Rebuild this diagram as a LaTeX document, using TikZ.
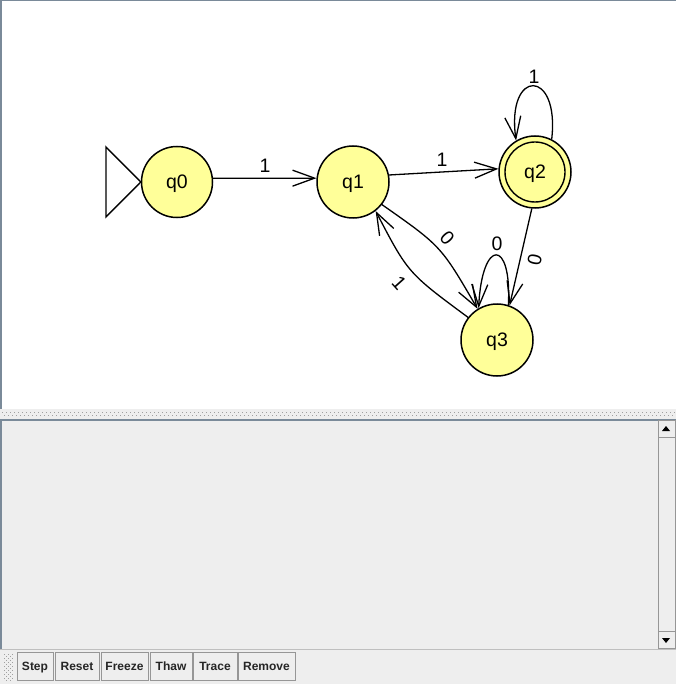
\documentclass[tikz,border=0pt]{standalone}
\usepackage{fontspec}
\setmainfont{Liberation Sans}
\usetikzlibrary{arrows.meta}
\definecolor{stfill}{RGB}{255,255,153}
\definecolor{panelgray}{RGB}{238,238,238}
\definecolor{bordergray}{RGB}{122,138,153}
\definecolor{btnborder}{RGB}{150,150,150}
\definecolor{dotgray}{RGB}{160,160,160}
\begin{document}
\begin{tikzpicture}[x=1pt,y=-1pt,
  state/.style={circle,draw=black,fill=stfill,line width=1.5pt,minimum size=72pt,inner sep=0pt,text height=13pt,text depth=0pt,font=\fontsize{19.5}{19.5}\selectfont},
  trans/.style={draw=black,line width=1.3pt,-{Straight Barb[length=22pt,width=16pt,line width=1.3pt]}},
  lbl/.style={font=\fontsize{19.5}{19.5}\selectfont,inner sep=0pt,text height=13pt,text depth=0pt},
  btn/.style={draw=btnborder,fill=panelgray,line width=0.8pt,minimum height=28pt,inner sep=0pt,text height=9pt,text depth=0pt,font=\fontsize{12}{12}\selectfont\bfseries,text=black!85}
]
\useasboundingbox (0,0) rectangle (676,684);
% top canvas
\fill[white] (0,0) rectangle (676,410);
\draw[bordergray,line width=1pt] (0,0.5) -- (676,0.5);
\draw[bordergray,line width=1.5pt] (0.75,0) -- (0.75,409);
% divider
\fill[panelgray] (0,409) rectangle (676,419);
\foreach \x in {2,6,...,674} {\fill[dotgray] (\x,412) rectangle ++(1,1);}
\foreach \x in {4,8,...,674} {\fill[dotgray] (\x,415) rectangle ++(1,1);}
% lower panel
\fill[panelgray] (0,419) rectangle (676,649);
\draw[bordergray,line width=1.5pt] (0,419.75) -- (676,419.75);
\draw[bordergray,line width=1.5pt] (0.75,419) -- (0.75,649);
% scrollbar
\draw[btnborder,fill=panelgray,line width=0.8pt] (658.5,420.5) rectangle (675.5,648);
\draw[btnborder,line width=0.8pt] (658.5,437) -- (675.5,437);
\draw[btnborder,line width=0.8pt] (658.5,631) -- (675.5,631);
\fill[black] (662,431) -- (670,431) -- (666,426) -- cycle;
\fill[black] (662,638) -- (670,638) -- (666,643) -- cycle;
% toolbar
\fill[panelgray] (0,649) rectangle (676,684);
\draw[black!25,line width=0.8pt] (0,649.5) -- (676,649.5);
\foreach \x in {4,8,12} {\foreach \y in {654,658,...,680} {\fill[dotgray] (\x,\y) rectangle ++(1,1);}}
\foreach \x in {6,10} {\foreach \y in {656,660,...,680} {\fill[dotgray] (\x,\y) rectangle ++(1,1);}}
\node[btn,minimum width=36pt] (bstep) at (35,666) {Step};
\node[btn,minimum width=44pt] (breset) at (77,666) {Reset};
\node[btn,minimum width=47pt] (bfreeze) at (124.5,666) {Freeze};
\node[btn,minimum width=42pt] (bthaw) at (171,666) {Thaw};
\node[btn,minimum width=44pt] (btrace) at (215,666) {Trace};
\node[btn,minimum width=57pt] (bremove) at (266.5,666) {Remove};
% states
\node[state,minimum size=71pt] (q0) at (177,182) {q0};
\node[state] (q1) at (353,182) {q1};
\node[state] (q2) at (535,172) {q2};
\draw[line width=1.4pt] (q2.center) circle[radius=30pt];
\node[state] (q3) at (497,340) {q3};
% initial marker
\coordinate (itop) at (106,147);
\coordinate (ibot) at (106,217);
\draw[line width=1.4pt,line join=miter] (itop) -- (q0.west) -- (ibot) -- cycle;
% transitions
\draw[trans] (q0.6) -- (q1.174);
\draw[trans] (q1.11) -- (q2.175);
\draw[trans] (q2.63) .. controls (560,68) and (506,68) .. (q2.121);
\draw[trans] (q2.-95) -- (q3.70);
\draw[trans] (q3.72) .. controls (512,238) and (482,238) .. (q3.120);
\draw[trans] (q1.-38) .. controls (441,246) .. (q3.122);
\draw[trans] (q3.142) .. controls (408,273) .. (q1.-52);
% labels
\node[lbl] (l01) at (265,166) {1};
\node[lbl] (l12) at (442,160) {1};
\node[lbl] (l22) at (534,77) {1};
\node[lbl] (l33) at (497,244) {0};
\node[lbl,rotate=-48] (l13) at (447,238) {0};
\node[lbl,rotate=-48] (l31) at (399,283) {1};
\node[lbl,rotate=78] (l23) at (535,260) {0};
\end{tikzpicture}
\end{document}
